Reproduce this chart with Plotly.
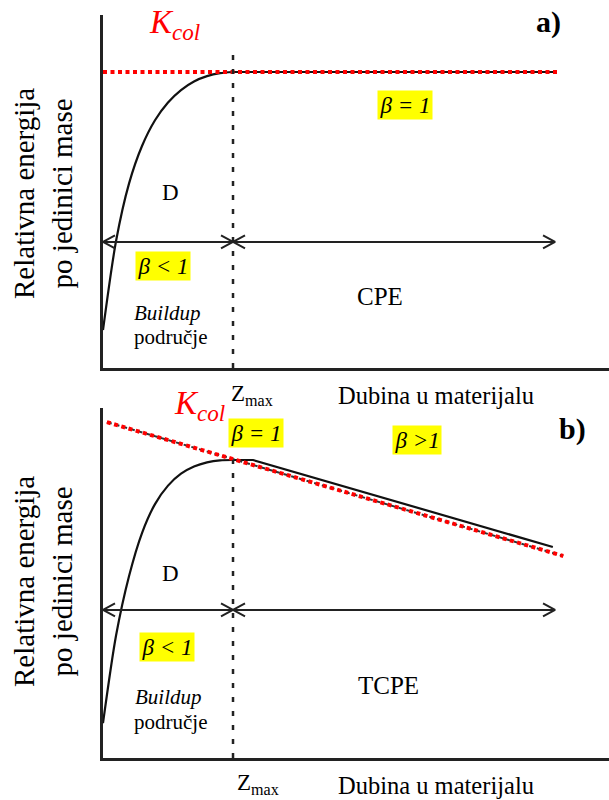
import plotly.graph_objects as go

W, H = 609, 800

# ---- data (depth in units of Zmax, energy relative to K_col at Zmax) ----
# panel a: buildup curve then plateau (CPE)
rise_depth_a = [0, 0.1, 0.2, 0.3, 0.4, 0.5, 0.6, 0.7, 0.8, 0.9, 1.0]
rise_energy_a = [0.128, 0.428, 0.623, 0.75, 0.837, 0.897, 0.939, 0.968, 0.986, 0.996, 1.0]
tail_depth_a = [1.0, 3.477]
tail_energy_a = [1.0, 1.0]
kcol_depth_a = [0, 3.515]
kcol_energy_a = [1.0, 1.0]

# panel b: buildup curve then attenuation (TCPE)
rise_depth_b = [0, 0.1, 0.2, 0.3, 0.4, 0.5, 0.6, 0.7, 0.8, 0.9, 1.0]
rise_energy_b = [0.117, 0.41, 0.61, 0.755, 0.852, 0.914, 0.954, 0.978, 0.992, 0.999, 1.0]
tail_depth_b = [1.0, 1.154, 3.46]
tail_energy_b = [1.0, 1.0, 0.708]
kcol_depth_b = [0.03, 3.54]
kcol_energy_b = [1.127, 0.678]

zmax = 1.0
zline_top_a = 1.084
zline_top_b = 1.0
arrow_level_a = 0.426
arrow_level_b = 0.497
arrow_end = 3.477

x_range = [0, 3.892]
y_range_a = [0, 1.1926]
y_range_b = [0, 1.1745]

SERIF = "Liberation Serif"

fig = go.Figure()

def px(x):
    return x / W

def py(y):
    return 1 - y / H

def add_panel(xa, ya, rd, re, td, te, kd, ke, ztop, alev, y_range, kcol_black_under):
    fig.add_trace(go.Scatter(x=rd, y=re, mode="lines", xaxis=xa, yaxis=ya,
                             line=dict(color="#111", width=2.2, shape="spline", smoothing=0.8),
                             hoverinfo="skip", showlegend=False))
    fig.add_trace(go.Scatter(x=td, y=te, mode="lines", xaxis=xa, yaxis=ya,
                             line=dict(color="#111", width=2.2),
                             hoverinfo="skip", showlegend=False))
    if kcol_black_under:
        fig.add_trace(go.Scatter(x=kd, y=ke, mode="lines", xaxis=xa, yaxis=ya,
                                 line=dict(color="#333", width=2, dash="5px,3px"),
                                 hoverinfo="skip", showlegend=False))
    fig.add_trace(go.Scatter(x=kd, y=ke, mode="lines", xaxis=xa, yaxis=ya,
                             line=dict(color="#ff0000", width=4, dash="4px,3.5px"),
                             hoverinfo="skip", showlegend=False))
    fig.add_trace(go.Scatter(x=[zmax, zmax], y=[0, ztop], mode="lines", xaxis=xa, yaxis=ya,
                             line=dict(color="#222", width=2.5, dash="5px,9px"),
                             hoverinfo="skip", showlegend=False))
    dx = 12 / 130.0
    yspan = y_range[1] - y_range[0]
    ppu = (H * 0.44) / yspan
    dy = 6.5 / ppu
    for (x0, x1) in [(0, zmax), (zmax, arrow_end)]:
        fig.add_trace(go.Scatter(x=[x0, x1], y=[alev, alev], mode="lines", xaxis=xa, yaxis=ya,
                                 line=dict(color="#222", width=2), hoverinfo="skip", showlegend=False))
        xs = [x0 + dx, x0, x0 + dx, None, x1 - dx, x1, x1 - dx]
        ys = [alev + dy, alev, alev - dy, None, alev + dy, alev, alev - dy]
        fig.add_trace(go.Scatter(x=xs, y=ys, mode="lines", xaxis=xa, yaxis=ya,
                                 line=dict(color="#222", width=2), hoverinfo="skip", showlegend=False))

add_panel("x", "y", rise_depth_a, rise_energy_a, tail_depth_a, tail_energy_a,
          kcol_depth_a, kcol_energy_a, zline_top_a, arrow_level_a, y_range_a, False)
add_panel("x2", "y2", rise_depth_b, rise_energy_b, tail_depth_b, tail_energy_b,
          kcol_depth_b, kcol_energy_b, zline_top_b, arrow_level_b, y_range_b, True)

ax_common = dict(showline=True, linecolor="#222", linewidth=2.5, showgrid=False,
                 zeroline=False, showticklabels=False, ticks="", fixedrange=True)

fig.update_layout(
    width=W, height=H,
    margin=dict(l=0, r=0, t=0, b=0),
    paper_bgcolor="white", plot_bgcolor="white",
    showlegend=False,
    xaxis=dict(domain=[103 / W, 1], range=x_range, anchor="y", **ax_common),
    yaxis=dict(domain=[1 - 368 / H, 1 - 15 / H], range=y_range_a, anchor="x", **ax_common),
    xaxis2=dict(domain=[103 / W, 1], range=x_range, anchor="y2", **ax_common),
    yaxis2=dict(domain=[1 - 758 / H, 1 - 408 / H], range=y_range_b, anchor="x2", **ax_common),
)

def txt(x, y, text, size, color="black", bg=None, angle=0, pad=0):
    fig.add_annotation(x=px(x), y=py(y), xref="paper", yref="paper", text=text,
                       showarrow=False, xanchor="center", yanchor="middle",
                       font=dict(family=SERIF, size=size, color=color),
                       bgcolor=bg if bg else "rgba(0,0,0,0)", borderpad=pad, textangle=angle)

KCOL = "<i>K</i><sub><i>col</i></sub>"
YLAB = "Relativna energija<br>po jedinici mase"
YEL = "#ffff00"

# top panel texts
txt(174, 24, KCOL, 33, color="#ff0000")
txt(548, 22, "<b>a)</b>", 30)
txt(405, 105, "<i>β = 1</i>", 23, bg=YEL, pad=1.5)
txt(170, 193, "D", 23)
txt(163, 266, "<i>β < 1</i>", 23, bg=YEL, pad=1.5)
txt(380, 296, "CPE", 25)
txt(167, 313, "<i>Buildup</i>", 21)
txt(170, 337, "područje", 21)
txt(252, 395, "Z<sub>max</sub>", 23)
txt(436, 395, "Dubina u materijalu", 24.5)
txt(43, 194, YLAB, 29, angle=-90)

# bottom panel texts
txt(199, 405, KCOL, 33, color="#ff0000")
txt(256, 433, "<i>β = 1</i>", 23, bg=YEL, pad=1.5)
txt(417, 440, "<i>β >1</i>", 23, bg=YEL, pad=1.5)
txt(572, 429, "<b>b)</b>", 30)
txt(170, 573, "D", 23)
txt(167, 647, "<i>β < 1</i>", 23, bg=YEL, pad=1.5)
txt(388, 685, "TCPE", 25)
txt(168, 697, "<i>Buildup</i>", 21)
txt(170, 722, "područje", 21)
txt(258, 784, "Z<sub>max</sub>", 23)
txt(436, 785, "Dubina u materijalu", 24.5)
txt(43, 582, YLAB, 29, angle=-90)

fig.write_html("out.html", config={"displayModeBar": False},
               post_script="document.body.style.margin='0px';document.body.style.overflow='hidden';")
